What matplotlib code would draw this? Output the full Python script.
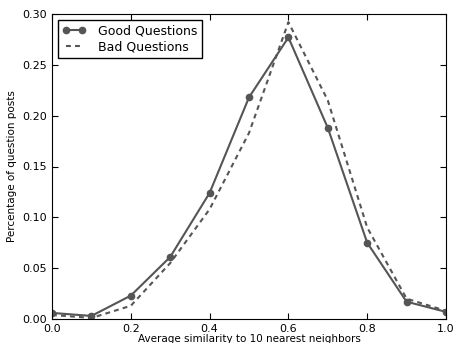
import matplotlib
matplotlib.use('Agg')
import matplotlib.pyplot as plt

similaridad = [0.0, 0.1, 0.2, 0.3, 0.4, 0.5, 0.6, 0.7, 0.8, 0.9, 1.0]
buenas = [0.006, 0.003, 0.023, 0.061, 0.124, 0.218, 0.277, 0.188, 0.075, 0.017, 0.007]
malas = [0.004, 0.001, 0.013, 0.055, 0.108, 0.183, 0.292, 0.215, 0.090, 0.020, 0.008]

plt.rcParams['xtick.direction'] = 'in'
plt.rcParams['ytick.direction'] = 'in'
plt.rcParams['xtick.top'] = True
plt.rcParams['ytick.right'] = True
plt.rcParams['lines.scale_dashes'] = False

fig = plt.figure(figsize=(4.56, 3.43), dpi=100)
ax = fig.add_axes([52 / 456, 24 / 343, 394 / 456, 305 / 343])

ax.plot(similaridad, buenas, '-o', color='#555555', lw=1.5, ms=4.5,
        label='Good Questions')
ax.plot(similaridad, malas, '--', color='#555555', lw=1.5, dashes=(3.5, 3),
        label='Bad Questions')

ax.set_xlim(0, 1)
ax.set_ylim(0, 0.30)
ax.set_xticks([0.0, 0.2, 0.4, 0.6, 0.8, 1.0])
ax.set_yticks([0.0, 0.05, 0.10, 0.15, 0.20, 0.25, 0.30])
ax.set_yticklabels(['0.00', '0.05', '0.10', '0.15', '0.20', '0.25', '0.30'])
ax.tick_params(labelsize=8, length=4, width=0.8)
ax.set_xlabel("Average similarity to 10 nearest neighbors", fontsize=7.5, labelpad=0)
ax.set_ylabel("Percentage of question posts", fontsize=7.5)

leg = ax.legend(loc='upper left', fontsize=9, fancybox=False, framealpha=1,
                borderaxespad=0.45, handlelength=1.9, handletextpad=1.0,
                numpoints=2, borderpad=0.35, labelspacing=0.3)
leg.get_frame().set_edgecolor('black')

plt.savefig("out.png", dpi=100)
